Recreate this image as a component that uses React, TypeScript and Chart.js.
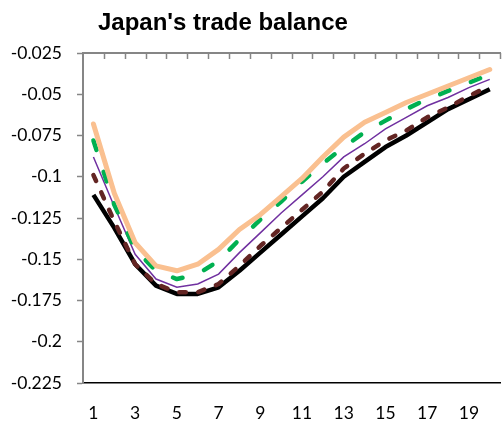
import React, { useEffect, useRef } from "react";
import { Chart, registerables } from "chart.js";

Chart.register(...registerables);

const categories = ["1", "2", "3", "4", "5", "6", "7", "8", "9", "10", "11", "12", "13", "14", "15", "16", "17", "18", "19", "20"];

const seriesOrange = [-0.068, -0.110, -0.140, -0.154, -0.157, -0.153, -0.144, -0.132, -0.123, -0.112, -0.101, -0.088, -0.076, -0.067, -0.061, -0.055, -0.050, -0.045, -0.040, -0.035];
const seriesGreen = [-0.078, -0.117, -0.144, -0.157, -0.162, -0.159, -0.151, -0.138, -0.126, -0.115, -0.103, -0.092, -0.082, -0.073, -0.066, -0.059, -0.053, -0.048, -0.043, -0.038];
const seriesPurple = [-0.088, -0.118, -0.147, -0.162, -0.167, -0.165, -0.159, -0.146, -0.134, -0.122, -0.111, -0.100, -0.088, -0.080, -0.071, -0.064, -0.057, -0.052, -0.046, -0.041];
const seriesBrown = [-0.099, -0.127, -0.153, -0.165, -0.170, -0.170, -0.165, -0.154, -0.142, -0.131, -0.120, -0.109, -0.095, -0.086, -0.078, -0.072, -0.064, -0.058, -0.051, -0.045];
const seriesBlack = [-0.111, -0.131, -0.153, -0.166, -0.171, -0.171, -0.167, -0.157, -0.146, -0.135, -0.124, -0.113, -0.100, -0.091, -0.082, -0.075, -0.067, -0.059, -0.053, -0.047];

const yMin = -0.225;
const yMax = -0.025;
const yStep = 0.025;

const titleText = "Japan's trade balance";

const AXIS_GRAY = "#868686";
const TICK_FONT = { family: "Lato, 'Open Sans', sans-serif", size: 17.5 };

const innerTicks = {
  id: "innerTicks",
  afterDraw(chart: any) {
    const xs = chart.scales.x;
    const top = chart.chartArea.top;
    const ctx = chart.ctx;
    ctx.save();
    ctx.strokeStyle = AXIS_GRAY;
    ctx.lineWidth = 1.5;
    for (let i = 0; i < categories.length; i++) {
      const a = xs.getPixelForValue(i);
      const b = i + 1 < categories.length ? xs.getPixelForValue(i + 1) : a + (a - xs.getPixelForValue(i - 1));
      const px = Math.round((a + b) / 2) + 0.5;
      ctx.beginPath();
      ctx.moveTo(px, top);
      ctx.lineTo(px, top + 6);
      ctx.stroke();
    }
    ctx.restore();
  },
};

export default function App() {
  const ref = useRef<HTMLCanvasElement | null>(null);

  useEffect(() => {
    if (!ref.current) return;
    const chart = new Chart(ref.current, {
      type: "line",
      data: {
        labels: categories,
        datasets: [
          { label: "A", data: seriesOrange, borderColor: "#FAC090", borderWidth: 5, pointRadius: 0, tension: 0, fill: false, borderCapStyle: "round", borderJoinStyle: "round" },
          { label: "B", data: seriesGreen, borderColor: "#00B050", borderWidth: 4.5, pointRadius: 0, tension: 0, fill: false, borderDash: [10, 23], borderCapStyle: "round", borderJoinStyle: "round" },
          { label: "C", data: seriesPurple, borderColor: "#7030A0", borderWidth: 1.5, pointRadius: 0, tension: 0, fill: false },
          { label: "D", data: seriesBrown, borderColor: "#632523", borderWidth: 4.5, pointRadius: 0, tension: 0, fill: false, borderDash: [6.5, 12.5], borderCapStyle: "round", borderJoinStyle: "round" },
          { label: "E", data: seriesBlack, borderColor: "#000000", borderWidth: 4.5, pointRadius: 0, tension: 0, fill: false, borderJoinStyle: "round" },
        ] as any,
      },
      options: {
        animation: false,
        responsive: false,
        maintainAspectRatio: false,
        layout: { padding: { left: 0, right: 1, top: 0, bottom: 0 } },
        plugins: {
          legend: { display: false },
          tooltip: { enabled: false },
          title: { display: false },
        },
        scales: {
          x: {
            type: "category",
            position: "bottom",
            offset: true,
            grid: { display: false, drawTicks: false, tickLength: 0 },
            border: { display: true, color: "#000000", width: 1.5 },
            ticks: {
              autoSkip: false,
              maxRotation: 0,
              padding: 20,
              color: "#000000",
              font: TICK_FONT,
              callback: (_v: any, i: number) => (i % 2 === 0 ? categories[i] : ""),
            },
            afterFit: (s: any) => {
              s.height = 41;
            },
          },
          x2: {
            type: "category",
            position: "top",
            offset: true,
            grid: { display: false, drawTicks: false, tickLength: 0 },
            border: { display: true, color: AXIS_GRAY, width: 2 },
            ticks: { display: false },
            afterFit: (s: any) => {
              s.height = 53;
            },
          },
          y: {
            type: "linear",
            position: "left",
            min: yMin,
            max: yMax,
            grid: { display: true, drawOnChartArea: false, drawTicks: true, tickLength: 6, color: AXIS_GRAY, tickColor: AXIS_GRAY, tickWidth: 1.5 },
            border: { display: true, color: AXIS_GRAY, width: 2 },
            ticks: {
              stepSize: yStep,
              padding: 15,
              color: "#000000",
              font: TICK_FONT,
              callback: (v: any) => String(Number(Number(v).toFixed(3))),
            },
            afterFit: (s: any) => {
              s.width = 83;
            },
          },
        } as any,
      },
      plugins: [innerTicks],
    });
    return () => chart.destroy();
  }, []);

  return (
    <div style={{ position: "absolute", left: 0, top: 0, width: 503, height: 424, overflow: "hidden", background: "#ffffff" }}>
      <canvas ref={ref} width={510} height={424} style={{ display: "block", width: 510, height: 424 }} />
      <div
        style={{
          position: "absolute",
          left: 98,
          top: 10,
          fontFamily: "'Liberation Sans', Arial, sans-serif",
          fontWeight: 700,
          fontSize: 24,
          lineHeight: 1,
          whiteSpace: "nowrap",
          color: "#000000",
        }}
      >
        {titleText}
      </div>
    </div>
  );
}
